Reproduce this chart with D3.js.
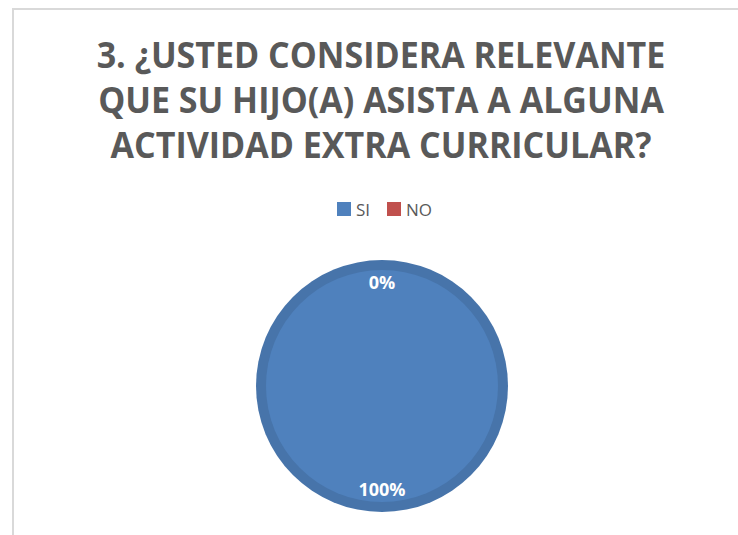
<!DOCTYPE html>
<html><head><meta charset="utf-8">
<script src="https://cdn.jsdelivr.net/npm/d3@7"></script>
<style>html,body{margin:0;padding:0;background:#fff;}svg{display:block;}</style>
</head><body>
<script>
const titleLines = ["3. ¿USTED CONSIDERA RELEVANTE", "QUE SU HIJO(A) ASISTA A ALGUNA", "ACTIVIDAD EXTRA CURRICULAR?"];
const categories = ["SI", "NO"];
const values = [100, 0];
const colors = ["#4F81BD", "#C0504D"];

const W = 738, H = 535;
const svg = d3.select("body").append("svg").attr("width", W).attr("height", H);

// frame
svg.append("rect").attr("x", 13).attr("y", 9).attr("width", W + 20).attr("height", H + 20)
  .attr("fill", "#fff").attr("stroke", "#D9D9D9").attr("stroke-width", 2);

// title
const tg = svg.append("g");
const tt = tg.selectAll("text").data(titleLines).enter().append("text")
  .attr("x", 0).attr("y", (d, i) => i * 45)
  .attr("text-anchor", "middle")
  .attr("font-family", "'Open Sans', sans-serif").attr("font-weight", "bold")
  .attr("font-size", 36).attr("fill", "#595959")
  .text(d => d);
const w0 = tt.nodes()[0].getComputedTextLength();
const sx = 569 / w0;
tg.attr("transform", `translate(381,68) scale(${sx},1)`);

// legend
const legend = svg.append("g").attr("transform", "translate(337,202)");
const litems = [{x: 0}, {x: 50}];
categories.forEach((c, i) => {
  const g = legend.append("g").attr("transform", `translate(${litems[i].x},0)`);
  g.append("rect").attr("width", 14).attr("height", 14).attr("fill", colors[i]);
  g.append("text").attr("x", 19).attr("y", 13.5)
    .attr("font-family", "'Open Sans', sans-serif").attr("font-size", 17)
    .attr("fill", "#595959").text(c);
});

// pie
const cx = 382, cy = 386, r = 126;
const data = categories.map((c, i) => ({cat: c, value: values[i], color: colors[i]}));
const pie = d3.pie().sort(null).value(d => d.value);
const arcs = pie(data);
const arc = d3.arc().innerRadius(0).outerRadius(r);
const innerArc = d3.arc().innerRadius(0).outerRadius(r - 10);
const labelArc = d3.arc().innerRadius(r * 0.82).outerRadius(r * 0.82);
const pg = svg.append("g").attr("transform", `translate(${cx},${cy})`);
pg.selectAll("path.outer").data(arcs).enter().append("path").attr("class", "outer")
  .attr("d", arc).attr("fill", d => d3.color(d.data.color).darker(0.3));
pg.selectAll("path.inner").data(arcs).enter().append("path").attr("class", "inner")
  .attr("d", innerArc).attr("fill", d => d.data.color);

const total = d3.sum(values);
pg.selectAll("text.lbl").data(arcs).enter().append("text").attr("class", "lbl")
  .attr("transform", d => {
    const ang = d.endAngle - d.startAngle > 0 ? (d.startAngle + d.endAngle) / 2 : d.startAngle;
    const rr = r * 0.82;
    return `translate(${rr * Math.sin(ang)},${-rr * Math.cos(ang)})`;
  })
  .attr("dy", "0.35em").attr("text-anchor", "middle")
  .attr("font-family", "'Open Sans', sans-serif").attr("font-weight", "bold")
  .attr("font-size", 18).attr("fill", "#fff")
  .text(d => Math.round(d.data.value / total * 100) + "%");
</script>
</body></html>
